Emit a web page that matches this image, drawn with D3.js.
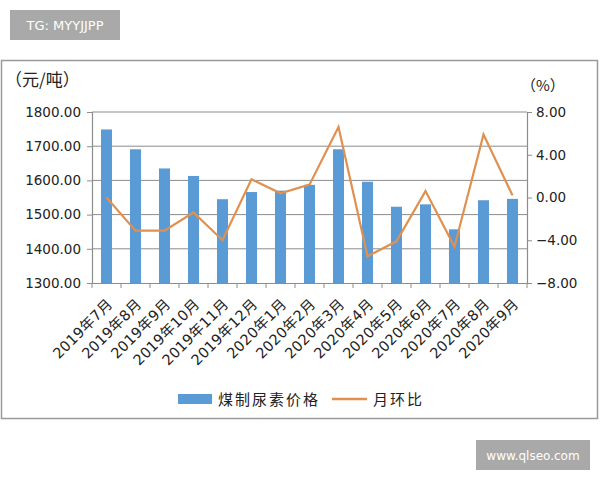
<!DOCTYPE html>
<html><head><meta charset="utf-8">
<script src="https://cdn.jsdelivr.net/npm/d3@7"></script>
<style>body{margin:0;background:#fff;}svg{display:block;font-family:"Noto Sans CJK SC","DejaVu Sans",sans-serif;}</style>
</head><body><svg id="c" width="600" height="480"></svg>
<script>
const categories = ["2019年7月","2019年8月","2019年9月","2019年10月","2019年11月","2019年12月","2020年1月","2020年2月","2020年3月","2020年4月","2020年5月","2020年6月","2020年7月","2020年8月","2020年9月"];
const priceValues = [1749,1691,1635,1613,1545,1566,1570,1587,1691,1596,1523,1530,1457,1542,1546];
const momValues = [0.0,-3.1,-3.1,-1.4,-4.0,1.7,0.4,1.2,6.6,-5.5,-4.1,0.6,-4.6,5.9,0.2];
const leftTicks = [1300,1400,1500,1600,1700,1800];
const rightTicks = [-8,-4,0,4,8];
const seriesNames = ["煤制尿素价格","月环比"];

const svg = d3.select("#c");
const L=92,R=527,T=112,B=283;
const barColor="#5b9bd5", lineColor="#e0904f", axisColor="#8c8c8c";

// outer frame
svg.append("rect").attr("x",1.5).attr("y",60.5).attr("width",596).attr("height",358)
  .attr("fill","#fff").attr("stroke","#9a9a9a").attr("stroke-width",1.5);

const x = d3.scaleBand().domain(categories).range([L,R]).paddingInner(0.62).paddingOuter(0.31);
const xb = d3.scaleBand().domain(categories).range([L,R]);
const yL = d3.scaleLinear().domain([1300,1800]).range([B,T]);
const yR = d3.scaleLinear().domain([-8,8]).range([B,T]);

// gridlines
svg.append("g").selectAll("line").data(leftTicks.slice(1)).join("line")
  .attr("x1",L).attr("x2",R).attr("y1",d=>yL(d)).attr("y2",d=>yL(d))
  .attr("stroke",axisColor).attr("stroke-width",1);

// bars
svg.append("g").selectAll("rect").data(priceValues).join("rect")
  .attr("x",(d,i)=>x(categories[i])).attr("width",x.bandwidth())
  .attr("y",d=>yL(d)).attr("height",d=>B-yL(d)).attr("fill",barColor);

// line
const line = d3.line().x((d,i)=>xb(categories[i])+xb.bandwidth()/2).y(d=>yR(d));
svg.append("path").datum(momValues).attr("d",line).attr("fill","none")
  .attr("stroke",lineColor).attr("stroke-width",2.2).attr("stroke-linejoin","miter");

// left axis
const gl = svg.append("g").attr("transform",`translate(${L},0)`)
  .call(d3.axisLeft(yL).tickValues(leftTicks).tickFormat(d3.format(".2f")).tickSizeOuter(0).tickSize(5).tickPadding(6));
// right axis
const gr = svg.append("g").attr("transform",`translate(${R},0)`)
  .call(d3.axisRight(yR).tickValues(rightTicks).tickFormat(d3.format(".2f")).tickSizeOuter(0).tickSize(5).tickPadding(4));
// bottom axis
const gb = svg.append("g").attr("transform",`translate(0,${B})`)
  .call(d3.axisBottom(xb).tickSize(0).tickSizeOuter(0).tickPadding(0));
[gl,gr,gb].forEach(g=>{
  g.select(".domain").attr("stroke",axisColor).attr("stroke-width",1.2);
  g.selectAll(".tick line").attr("stroke",axisColor);
  g.selectAll("text").attr("fill","#222").attr("font-size",13.5).attr("font-family","'DejaVu Sans',sans-serif");
});
gb.selectAll(".tick text").attr("font-family","'DejaVu Sans','Noto Sans CJK SC',sans-serif").attr("font-size",14.5)
  .attr("letter-spacing",0.3)
  .attr("text-anchor","end").attr("y",0).attr("dy",0)
  .attr("transform","translate(7,22) rotate(-45)");
// x boundary ticks
svg.append("g").selectAll("line").data(d3.range(categories.length+1)).join("line")
  .attr("x1",i=>L+i*xb.step()).attr("x2",i=>L+i*xb.step()).attr("y1",B).attr("y2",B+5)
  .attr("stroke",axisColor);

// axis titles
svg.append("text").attr("x",5).attr("y",86).attr("font-size",17).attr("fill","#222").text("（元/吨）");
svg.append("text").attr("x",521).attr("y",91).attr("font-size",15).attr("fill","#222").text("（%）");

// legend
const lg = svg.append("g");
lg.append("rect").attr("x",178).attr("y",394).attr("width",34).attr("height",10).attr("fill",barColor);
lg.append("text").attr("x",218).attr("y",405).attr("font-size",15).attr("fill","#222").attr("letter-spacing",2).text(seriesNames[0]);
lg.append("line").attr("x1",332).attr("x2",367).attr("y1",399).attr("y2",399).attr("stroke",lineColor).attr("stroke-width",2.5);
lg.append("text").attr("x",373).attr("y",405).attr("font-size",15).attr("fill","#222").attr("letter-spacing",2).text(seriesNames[1]);

// watermark boxes
svg.append("rect").attr("x",10).attr("y",10).attr("width",110).attr("height",30).attr("fill","#a9a9a9");
svg.append("text").attr("x",65).attr("y",30).attr("text-anchor","middle").attr("font-size",13).attr("fill","#fff")
  .attr("font-family","'DejaVu Sans',sans-serif").text("TG: MYYJJPP");
svg.append("rect").attr("x",476).attr("y",440).attr("width",114).attr("height",30).attr("fill","#a9a9a9");
svg.append("text").attr("x",533).attr("y",460).attr("text-anchor","middle").attr("font-size",12).attr("fill","#fff")
  .attr("font-family","'DejaVu Sans',sans-serif").text("www.qlseo.com");
</script></body></html>
